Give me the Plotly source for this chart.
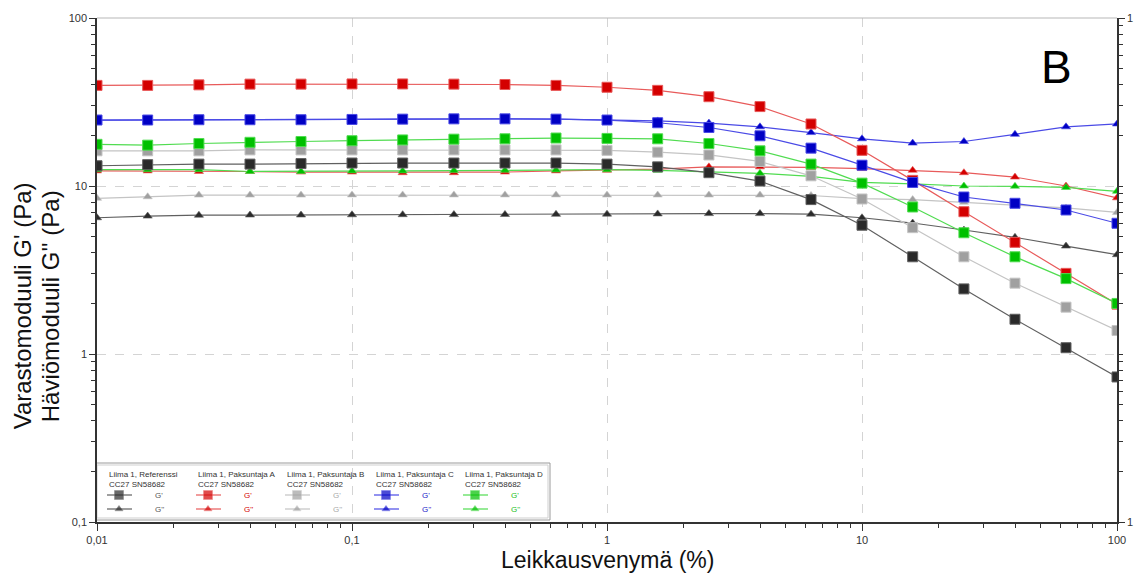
import plotly.graph_objects as go

# Strain sweep points (%), five per decade
strain = [0.01, 0.0158, 0.0251, 0.0398, 0.0631, 0.1, 0.158, 0.251, 0.398, 0.631,
          1, 1.58, 2.51, 3.98, 6.31, 10, 15.8, 25.1, 39.8, 63.1, 100]

# Storage modulus G' (Pa)
ref_g1 = [13.2, 13.4, 13.5, 13.5, 13.6, 13.7, 13.7, 13.7, 13.7, 13.7,
          13.5, 13.0, 12.0, 10.7, 8.3, 5.84, 3.79, 2.44, 1.61, 1.09, 0.73]
a_g1 = [39.7, 39.7, 40.0, 40.4, 40.4, 40.5, 40.5, 40.4, 40.2, 39.7,
        38.7, 37.1, 34.0, 29.7, 23.4, 16.3, 10.8, 7.03, 4.62, 3.02, 1.98]
b_g1 = [16.2, 16.2, 16.2, 16.4, 16.4, 16.4, 16.4, 16.4, 16.4, 16.4,
        16.3, 15.9, 15.3, 14.0, 11.5, 8.37, 5.65, 3.79, 2.64, 1.90, 1.38]
c_g1 = [24.7, 24.7, 24.8, 24.8, 24.8, 24.9, 25.0, 25.1, 25.1, 25.0,
        24.7, 23.8, 22.3, 19.9, 16.8, 13.3, 10.5, 8.6, 7.89, 7.2, 6.0]
d_g1 = [17.7, 17.5, 17.9, 18.2, 18.4, 18.6, 18.8, 19.0, 19.1, 19.3,
        19.2, 19.1, 17.9, 16.2, 13.5, 10.4, 7.5, 5.27, 3.79, 2.81, 2.0]

# Loss modulus G'' (Pa)
ref_g2 = [6.47, 6.62, 6.70, 6.72, 6.72, 6.74, 6.75, 6.76, 6.77, 6.78,
          6.8, 6.82, 6.85, 6.85, 6.8, 6.47, 6.02, 5.47, 4.95, 4.39, 3.90]
a_g2 = [12.3, 12.3, 12.2, 12.2, 12.1, 12.1, 12.0, 12.0, 12.1, 12.3,
        12.4, 12.6, 13.0, 13.0, 12.9, 12.7, 12.4, 12.0, 11.3, 10.0, 8.5]
b_g2 = [8.45, 8.63, 8.83, 8.83, 8.83, 8.85, 8.85, 8.85, 8.85, 8.85,
        8.83, 8.84, 8.84, 8.84, 8.78, 8.4, 8.3, 8.0, 7.7, 7.4, 6.96]
c_g2 = [24.7, 24.7, 24.8, 24.8, 24.8, 24.9, 25.0, 25.1, 25.1, 25.0,
        24.8, 24.4, 23.7, 22.5, 20.8, 19.1, 18.0, 18.4, 20.3, 22.5, 23.4]
d_g2 = [12.5, 12.5, 12.5, 12.2, 12.2, 12.3, 12.3, 12.35, 12.4, 12.45,
        12.5, 12.4, 12.2, 11.9, 11.4, 10.5, 10.3, 10.0, 9.96, 9.8, 9.3]

sample_names = ["Liima 1, Referenssi", "Liima 1, Paksuntaja A", "Liima 1, Paksuntaja B",
                "Liima 1, Paksuntaja C", "Liima 1, Paksuntaja D"]
instrument = "CC27 SN58682"

x_ticks = [0.01, 0.1, 1, 10, 100]
x_ticktext = ["0,01", "0,1", "1", "10", "100"]
y_ticks = [0.1, 1, 10, 100]
y_ticktext = ["0,1", "1", "10", "100"]

series = [
    # (G', G'', marker colour, line colour, legend text colour)
    (ref_g1, ref_g2, "#2a2a2a", "#606060", "#555555"),
    (a_g1, a_g2, "#d40000", "#e85a5a", "#d40000"),
    (b_g1, b_g2, "#a0a0a0", "#c4c4c4", "#a8a8a8"),
    (c_g1, c_g2, "#0000c4", "#4a4ae6", "#2020c8"),
    (d_g1, d_g2, "#00c000", "#50dc50", "#20c020"),
]

FONT = "Liberation Sans, Arial, sans-serif"

fig = go.Figure()

for g1, g2, mcol, lcol, _ in series:
    fig.add_trace(go.Scatter(
        x=strain, y=g2, mode="lines+markers",
        line=dict(color=lcol, width=1.2),
        marker=dict(symbol="triangle-up", size=8, color=mcol,
                    line=dict(color=lcol, width=0.6)),
        showlegend=False, hoverinfo="skip"))
for g1, g2, mcol, lcol, _ in series:
    fig.add_trace(go.Scatter(
        x=strain, y=g1, mode="lines+markers",
        line=dict(color=lcol, width=1.2),
        marker=dict(symbol="square", size=10, color=mcol,
                    line=dict(color=lcol, width=1)),
        showlegend=False, hoverinfo="skip"))

# Dummy trace so the right-hand axis is drawn
fig.add_trace(go.Scatter(x=[None], y=[None], yaxis="y2", showlegend=False))

# Legend block drawn on a pixel-scaled overlay axis
lx0, lstep = 10, 89
for i, (name, (g1, g2, mcol, lcol, tcol)) in enumerate(zip(sample_names, series)):
    gx = lx0 + i * lstep
    for row_y, sym, msize, label in [(477, "square", 9, "G'"), (491, "triangle-up", 7, "G''")]:
        fig.add_trace(go.Scatter(
            x=[gx, gx + 12, gx + 25], y=[row_y, row_y, row_y],
            mode="lines+markers", xaxis="x2", yaxis="y3",
            line=dict(color=lcol, width=1.2),
            marker=dict(symbol=sym, size=[0, msize, 0], color=mcol,
                        line=dict(color=lcol, width=0.6)),
            showlegend=False, hoverinfo="skip"))
        fig.add_annotation(x=gx + 46, y=row_y, xref="x2", yref="y3", text=label,
                           showarrow=False, xanchor="left", yanchor="middle",
                           font=dict(size=8, color=tcol))
    fig.add_annotation(x=gx, y=456, xref="x2", yref="y3", text=name, showarrow=False,
                       xanchor="left", yanchor="middle", font=dict(size=8, color="#333333"))
    fig.add_annotation(x=gx, y=466, xref="x2", yref="y3", text=instrument, showarrow=False,
                       xanchor="left", yanchor="middle", font=dict(size=8, color="#333333"))

fig.add_shape(type="rect", xref="x2", yref="y3", x0=-2, x1=453, y0=445, y1=502,
              line=dict(color="#9a9a9a", width=1), fillcolor="white", layer="below")
fig.add_shape(type="rect", xref="x2", yref="y3", x0=0, x1=451, y0=447, y1=500,
              line=dict(color="#cfcfcf", width=1), layer="below")

# Top border
fig.add_shape(type="line", xref="paper", yref="paper", x0=0, x1=1, y0=1, y1=1,
              line=dict(color="#b8b8b8", width=1.2))

fig.add_annotation(x=0.941, y=0.903, xref="paper", yref="paper", text="B", showarrow=False,
                   xanchor="center", yanchor="middle",
                   font=dict(size=46, color="#000000", family=FONT))

# Axis titles
fig.add_annotation(x=-0.0735, y=0.428, xref="paper", yref="paper", textangle=-90,
                   text="Varastomoduuli G' (Pa)", showarrow=False,
                   xanchor="center", yanchor="middle",
                   font=dict(size=24, color="#111111", family=FONT))
fig.add_annotation(x=-0.0461, y=0.428, xref="paper", yref="paper", textangle=-90,
                   text="Häviömoduuli G'' (Pa)", showarrow=False,
                   xanchor="center", yanchor="middle",
                   font=dict(size=24, color="#111111", family=FONT))
fig.add_annotation(x=0.5, y=-0.076, xref="paper", yref="paper",
                   text="Leikkausvenymä (%)", showarrow=False,
                   xanchor="center", yanchor="middle",
                   font=dict(size=23, color="#111111", family=FONT))

axis_font = dict(size=11, color="#333333", family=FONT)

fig.update_layout(
    width=1138, height=573,
    margin=dict(l=97, r=21, t=18, b=51, autoexpand=False),
    paper_bgcolor="white", plot_bgcolor="white",
    font=dict(family=FONT, color="#222222"),
    xaxis=dict(
        type="log", range=[-2, 2], tickmode="array", tickvals=x_ticks, ticktext=x_ticktext,
        ticks="outside", ticklen=7, tickcolor="#333", tickfont=axis_font,
        showline=True, linecolor="#333333", linewidth=1.5, automargin=False,
        showgrid=True, gridcolor="#d4d4d4", griddash="dash", gridwidth=1,
        minor=dict(ticks="outside", ticklen=4, tickcolor="#333", dtick="D1", showgrid=False),
        zeroline=False,
    ),
    yaxis=dict(
        type="log", range=[-1, 2], tickmode="array", tickvals=y_ticks, ticktext=y_ticktext,
        ticks="outside", ticklen=6, tickcolor="#333", tickfont=axis_font,
        showline=True, linecolor="#333333", linewidth=1.5, automargin=False,
        showgrid=True, gridcolor="#d4d4d4", griddash="dash", gridwidth=1,
        minor=dict(ticks="outside", ticklen=4, tickcolor="#333", dtick="D1", showgrid=False),
        zeroline=False,
    ),
    yaxis2=dict(
        type="log", range=[-1, 2], overlaying="y", side="right",
        tickmode="array", tickvals=[0.1, 100], ticktext=["1", "1"],
        ticks="outside", ticklen=6, tickcolor="#333", tickfont=axis_font,
        showline=True, linecolor="#333333", linewidth=1.5, showgrid=False, automargin=False,
        minor=dict(ticks="outside", ticklen=4, tickcolor="#333", dtick="D1"),
        zeroline=False,
    ),
    xaxis2=dict(range=[0, 1020], overlaying="x", visible=False, fixedrange=True),
    yaxis3=dict(range=[504, 0], overlaying="y", visible=False, fixedrange=True),
)

fig.write_html("out.html")
